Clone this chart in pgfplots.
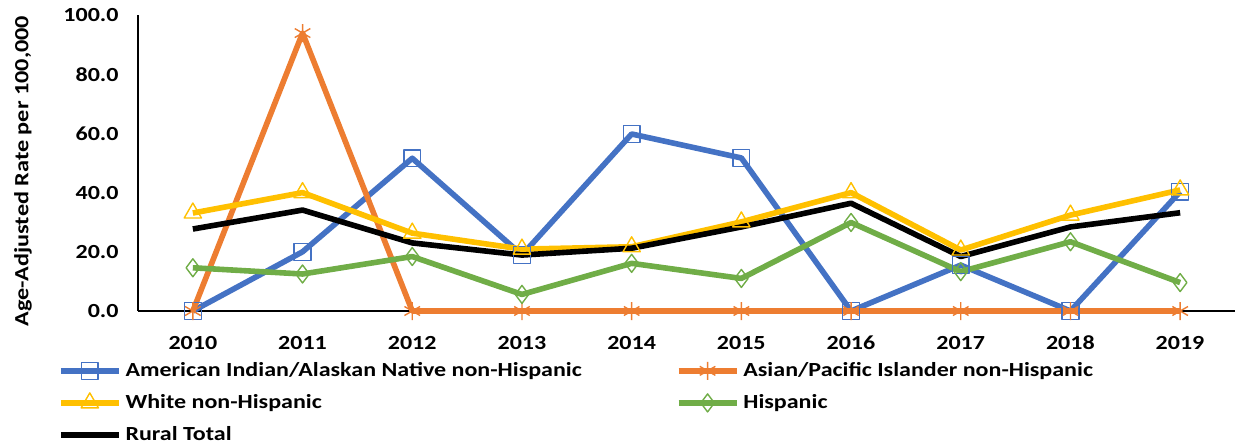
\documentclass[border=0pt]{standalone}
\usepackage{fontspec}
\setmainfont{Carlito}[FakeStretch=1.2]
\usepackage{pgfplots}
\pgfplotsset{compat=1.18}
\definecolor{aian}{HTML}{4472C4}
\definecolor{api}{HTML}{ED7D31}
\definecolor{wht}{HTML}{FFC000}
\definecolor{hisp}{HTML}{70AD47}

\begin{document}
\begin{tikzpicture}
\begin{axis}[
  name=ax,
  scale only axis,
  width=548.5pt, height=148pt,
  clip=false,
  xmin=2009.5, xmax=2019.5,
  ymin=0, ymax=100,
  xtick={2010,...,2019},
  ytick={0,20,40,60,80,100},
  axis lines*=left,
  axis line style={line width=0.6pt},
  major tick length=0pt,
  font=\bfseries\fontsize{10}{12}\selectfont,
  /pgf/number format/assume math mode=true,
  xticklabel style={/pgf/number format/1000 sep={}, yshift=-9pt},
  yticklabel style={/pgf/number format/.cd, fixed, fixed zerofill, precision=1, /tikz/xshift=-6.2pt},
  ylabel={Age-Adjusted Rate per 100,000},
  ylabel style={font=\bfseries\fontsize{10.1}{12}\selectfont, at={(axis description cs:0,0.5)}, yshift=57.5pt, xshift=-4pt, anchor=center},
  every axis plot/.append style={line width=2.8pt, line join=round},
  legend columns=2,
  legend cell align=left,
  legend style={at={(-0.0733,-0.145)}, anchor=north west, draw=none,
    font=\bfseries\fontsize{10}{12}\selectfont, inner xsep=0pt,
    row sep=3.5pt,
    /tikz/every even column/.append style={column sep=45pt}},
  legend image code/.code={\draw[mark repeat=2,mark phase=2,#1] plot coordinates {(0pt,0pt)(14.5pt,0pt)(29pt,0pt)};},
]
\addplot[color=aian, mark=square, mark size=4.2pt, mark options={solid, line width=0.7pt, fill=none}] coordinates {
  (2010,0)(2011,20)(2012,51.6)(2013,18.9)(2014,59.8)(2015,51.7)(2016,0)(2017,15.5)(2018,0)(2019,40.3)
};
\addplot[color=api, mark=asterisk, mark size=4.5pt, mark options={solid, line width=0.7pt}] coordinates {
  (2010,0)(2011,93.9)(2012,0)(2013,0)(2014,0)(2015,0)(2016,0)(2017,0)(2018,0)(2019,0)
};
\addplot[color=wht, mark=triangle, mark size=5pt, mark options={solid, line width=0.7pt, fill=none}] coordinates {
  (2010,33.1)(2011,40)(2012,26.3)(2013,20.9)(2014,21.7)(2015,30.1)(2016,40)(2017,20.6)(2018,32.4)(2019,40.9)
};
\addplot[color=hisp, mark=diamond, mark size=4.5pt, mark options={solid, line width=0.7pt, fill=none}] coordinates {
  (2010,14.6)(2011,12.5)(2012,18.4)(2013,5.6)(2014,16.1)(2015,11)(2016,29.9)(2017,13.3)(2018,23.4)(2019,9.6)
};
\addplot[color=black, no marks] coordinates {
  (2010,27.7)(2011,34.1)(2012,23)(2013,18.9)(2014,21.2)(2015,28.4)(2016,36.4)(2017,18.4)(2018,28.4)(2019,33.2)
};
\legend{American Indian/Alaskan Native non-Hispanic, Asian/Pacific Islander non-Hispanic, White non-Hispanic, Hispanic, Rural Total}
\end{axis}
\pgfresetboundingbox
\path ([xshift=-69pt,yshift=-66.5pt]ax.south west) rectangle ([xshift=2.5pt,yshift=7.5pt]ax.north east);
\end{tikzpicture}
\end{document}
